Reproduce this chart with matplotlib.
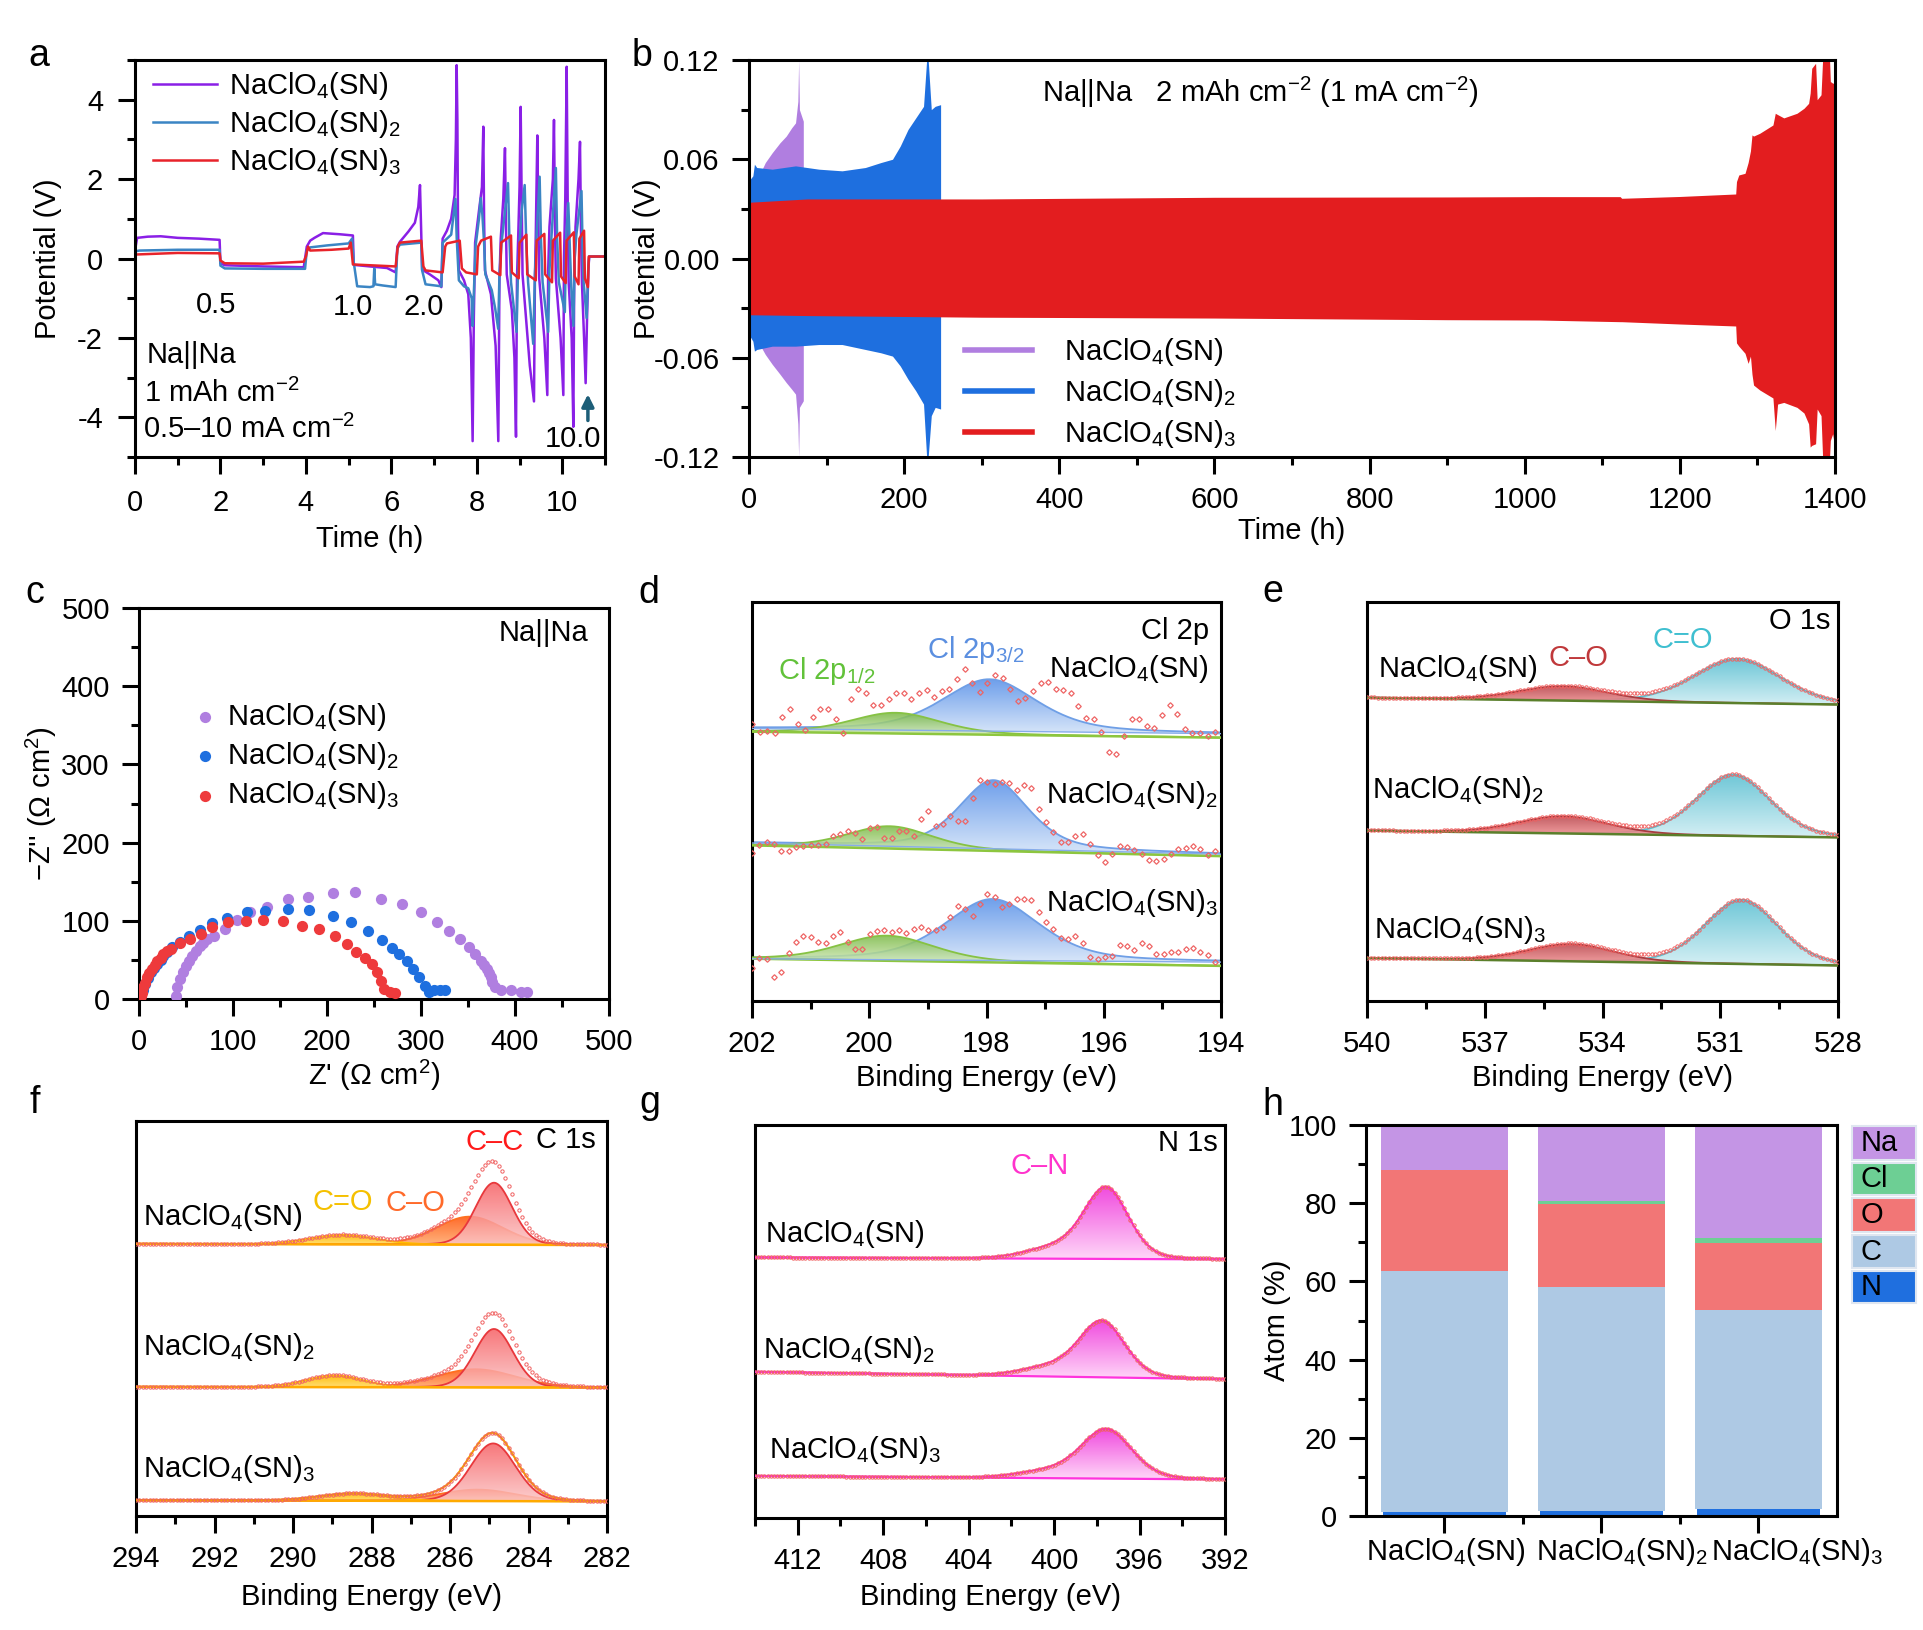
import numpy as np
import matplotlib
matplotlib.use('Agg')
import matplotlib.pyplot as plt
from matplotlib.ticker import MultipleLocator, FormatStrFormatter, NullLocator
from matplotlib.colors import LinearSegmentedColormap
from matplotlib.lines import Line2D
from matplotlib.patches import Rectangle

plt.rcParams['font.family'] = ['Liberation Sans', 'DejaVu Sans']
plt.rcParams['mathtext.fontset'] = 'custom'
plt.rcParams['mathtext.rm'] = 'Liberation Sans'
plt.rcParams['mathtext.it'] = 'Liberation Sans:italic'
plt.rcParams['mathtext.bf'] = 'Liberation Sans:bold'
plt.rcParams['mathtext.default'] = 'regular'
plt.rcParams['axes.unicode_minus'] = False
plt.rcParams['font.size'] = 21

SN = ['NaClO$_4$(SN)', 'NaClO$_4$(SN)$_2$', 'NaClO$_4$(SN)$_3$']

# ---- a : rate test (time h, potential V)
rate_sn_t = [0.00, 0.05, 0.30, 0.60, 1.00, 1.50, 1.98, 2.00, 2.10, 3.00, 3.95, 4.02, 4.10, 4.20, 4.40, 4.80, 5.10,
             5.12, 5.50, 5.90, 6.10, 6.14, 6.20, 6.40, 6.55, 6.63, 6.67, 6.70, 6.72, 6.90, 7.10, 7.17,
             7.20, 7.30, 7.40, 7.48, 7.51, 7.528, 7.545, 7.56, 7.58, 7.70, 7.80, 7.86, 7.902, 7.93, 7.96, 8.05,
             8.12, 8.152, 8.17, 8.19, 8.33, 8.44, 8.503, 8.53, 8.56, 8.62, 8.659, 8.68, 8.70, 8.82, 8.88, 8.917,
             8.94, 8.97, 9.00, 9.026, 9.05, 9.07, 9.24, 9.338, 9.36, 9.38, 9.416, 9.44, 9.46, 9.58, 9.650, 9.67,
             9.70, 9.78, 9.806, 9.83, 9.85, 9.96, 10.025, 10.04, 10.07, 10.103, 10.13, 10.15, 10.22, 10.259, 10.28,
             10.31, 10.38, 10.415, 10.44, 10.46, 10.51, 10.547, 10.58, 10.61, 10.63, 11.00]
rate_sn_v = [0.20, 0.52, 0.55, 0.56, 0.52, 0.50, 0.47, -0.12, -0.17, -0.20, -0.22, 0.30, 0.45, 0.52, 0.64, 0.61, 0.58,
             -0.16, -0.20, -0.24, -0.35, 0.30, 0.42, 0.68, 0.90, 1.30, 1.85, 0.60, -0.28, -0.40, -0.55, -0.72,
             0.50, 0.70, 1.00, 1.60, 3.00, 4.87, 3.50, 0.80, -0.30, -0.55, -0.90, -2.00, -4.60, -1.50, 0.40, 1.20,
             1.80, 3.32, 1.00, -0.30, -0.90, -2.20, -4.60, -0.50, 0.50, 1.50, 2.78, 1.00, -0.40, -1.30, -2.50, -4.49,
             -0.50, 0.60, 1.80, 3.82, 1.50, -0.40, -2.70, -3.60, -0.50, 0.60, 3.10, 1.00, -0.50, -2.00, -3.44, -0.30,
             0.80, 2.00, 3.49, 0.80, -0.50, -2.00, -3.44, 0.00, 1.50, 4.83, 1.00, -0.60, -2.00, -4.24, -0.50,
             0.80, 2.00, 2.94, 0.50, -0.60, -2.00, -3.14, -1.50, -0.30, 0.05, 0.05]
rate_sn2_t = [0.00, 0.10, 1.00, 1.98, 2.00, 2.10, 3.00, 3.98, 4.02, 4.10, 4.50, 5.00, 5.08, 5.12, 5.20, 5.50, 5.58, 5.60,
              5.62, 5.80, 6.10, 6.14, 6.20, 6.70, 6.72, 6.80, 7.17,
              7.20, 7.40, 7.50, 7.53, 7.58, 7.70, 7.80, 7.88, 7.90, 7.94, 7.97, 8.05, 8.09, 8.13, 8.17, 8.20, 8.35,
              8.43, 8.50, 8.53, 8.58, 8.66, 8.73, 8.76, 8.80, 8.93, 8.96, 9.00, 9.05, 9.12, 9.16, 9.20, 9.32, 9.36,
              9.40, 9.47, 9.50, 9.54, 9.67, 9.70, 9.75, 9.85, 9.88, 9.92, 10.06, 10.09, 10.14, 10.18, 10.21, 10.26,
              10.29, 10.33, 10.45, 10.48, 10.50, 10.57, 10.61, 10.63, 11.00]
rate_sn2_v = [0.18, 0.20, 0.22, 0.22, -0.18, -0.25, -0.26, -0.26, 0.20, 0.28, 0.33, 0.38, 0.50, -0.10, -0.70, -0.72, -0.70, -0.25,
              -0.65, -0.68, -0.72, 0.25, 0.35, 0.40, -0.30, -0.65, -0.70,
              0.40, 0.60, 1.50, 0.50, -0.55, -0.70, -0.75, -1.00, -1.70, -0.60, 0.30, 1.00, 1.52, 1.10, 0.40, -0.40, -0.80,
              -1.26, -1.77, -0.40, 0.40, 1.20, 1.90, 0.60, -0.60, -1.85, -0.50, 0.40, 1.20, 1.85, 0.30, -0.60, -2.15, -0.40,
              0.60, 2.06, 0.50, -0.60, -1.85, -0.30, 0.60, 2.28, 0.50, -0.60, -1.35, 0.50, 1.40, 0.20, -0.70, -1.70,
              0.00, 0.60, 1.70, 0.00, -0.60, -1.50, -0.20, 0.05, 0.05]
rate_sn3_t = [0.00, 1.00, 1.98, 2.00, 2.10, 3.00, 3.95, 4.00, 4.05, 4.10, 4.60, 5.00, 5.05, 5.10, 6.10, 6.15, 6.20, 6.70,
              6.75, 6.80, 7.20, 7.26, 7.30, 7.60, 7.65, 7.75, 8.00, 8.03, 8.10, 8.33, 8.36, 8.55, 8.57, 8.80, 8.82,
              8.98, 9.00, 9.16, 9.18, 9.38, 9.40, 9.58, 9.60, 9.76, 9.78, 9.95, 9.97, 10.08, 10.10, 10.27, 10.29,
              10.38, 10.40, 10.51, 10.53, 10.60, 10.62, 11.00]
rate_sn3_v = [0.10, 0.14, 0.13, -0.05, -0.12, -0.13, -0.08, 0.05, 0.30, 0.20, 0.22, 0.25, 0.40, -0.15, -0.20, 0.30, 0.40, 0.45,
              -0.20, -0.30, -0.35, 0.30, 0.38, 0.45, -0.25, -0.35, -0.40, 0.30, 0.45, 0.55, -0.30, -0.42, 0.40, 0.58, -0.35,
              -0.50, 0.40, 0.60, -0.40, -0.55, 0.45, 0.62, -0.40, -0.60, 0.45, 0.65, -0.45, -0.62, 0.45, 0.66, -0.45,
              -0.65, 0.50, 0.70, -0.50, -0.72, 0.05, 0.05]

# ---- b : long cycling envelopes (time h, potential V)
cyc_sn_t = [0, 8, 15, 21, 30, 40, 48, 55, 60, 63, 64, 65, 70]
cyc_sn_hi = [0.045, 0.047, 0.052, 0.058, 0.064, 0.070, 0.074, 0.079, 0.082, 0.095, 0.120, 0.090, 0.083]
cyc_sn_lo = [-0.045, -0.048, -0.053, -0.058, -0.064, -0.070, -0.075, -0.079, -0.082, -0.100, -0.120, -0.090, -0.086]
cyc_sn2_t = [0, 5, 7, 10, 30, 60, 90, 120, 150, 170, 185, 195, 205, 215, 225, 229, 231, 235, 240, 247]
cyc_sn2_hi = [0.047, 0.050, 0.057, 0.055, 0.054, 0.056, 0.054, 0.053, 0.055, 0.058, 0.060, 0.068, 0.078, 0.085, 0.092,
              0.120, 0.120, 0.090, 0.092, 0.093]
cyc_sn2_lo = [-0.046, -0.050, -0.056, -0.055, -0.053, -0.053, -0.052, -0.052, -0.055, -0.057, -0.059, -0.065, -0.073,
              -0.080, -0.088, -0.120, -0.120, -0.095, -0.090, -0.091]
cyc_sn3_t = [0, 75, 300, 600, 900, 1019, 1123, 1125, 1200, 1272, 1273, 1276, 1284, 1288, 1291, 1293, 1295, 1303,
             1320, 1323, 1326, 1334, 1351, 1360, 1366, 1368, 1370, 1375, 1377, 1382, 1384, 1393, 1394, 1397, 1400]
cyc_sn3_hi = [0.034, 0.036, 0.036, 0.037, 0.0372, 0.0374, 0.0374, 0.0364, 0.0375, 0.039, 0.0465, 0.0505, 0.0515,
              0.058, 0.065, 0.0747, 0.074, 0.0757, 0.0807, 0.0878, 0.087, 0.085, 0.0878, 0.0908, 0.0938, 0.100,
              0.115, 0.118, 0.096, 0.099, 0.120, 0.120, 0.107, 0.106, 0.106]
cyc_sn3_lo = [-0.034, -0.0345, -0.0355, -0.036, -0.037, -0.0372, -0.0382, -0.0382, -0.0396, -0.0408, -0.051, -0.053,
              -0.0573, -0.0634, -0.059, -0.070, -0.0765, -0.0795, -0.0843, -0.104, -0.088, -0.087, -0.090, -0.0934,
              -0.100, -0.114, -0.113, -0.112, -0.091, -0.095, -0.120, -0.120, -0.110, -0.106, -0.115]

# ---- c : EIS (ohm cm2)
eis_sn_x = [39, 40.4, 43.5, 46.5, 50, 53, 56.5, 61, 65, 68, 72, 80, 91, 104, 118, 136, 159, 180, 206.5, 230,
            257, 280, 300, 317, 330, 341, 351, 357, 364, 367, 370, 372, 374, 376, 379, 385, 396, 406.5, 413]
eis_sn_y = [4, 15, 25, 34, 42.5, 49, 55, 62, 68, 72, 77, 81, 90, 101, 111, 118, 128, 131, 135, 137,
            128.5, 122, 111, 99, 87, 77, 66, 57, 49, 44, 38, 33, 28, 22, 15, 11, 11, 9, 8.5]
eis_sn2_x = [2, 4, 6.5, 10, 13, 16, 19.5, 23, 26, 30, 35, 43.5, 53, 65, 78, 93.5, 115, 134, 159, 181,
             206.5, 226, 244, 258, 269, 277, 285, 291, 298, 304, 309, 314, 320, 326]
eis_sn2_y = [6, 12, 19, 27, 34, 40, 45, 50, 55, 60, 66, 73, 80, 88, 97, 104, 111, 113, 115, 114,
             106, 98, 87, 76, 65, 57, 48, 38, 28, 17, 9, 11, 11, 11]
eis_sn3_x = [2, 3, 4, 6, 8.7, 11, 14, 17, 19.5, 23, 26, 30, 34, 43.5, 54, 66, 78, 95, 114, 132,
             153, 173, 192, 208, 221, 231, 240, 248, 253, 257, 261, 267, 272]
eis_sn3_y = [4, 8, 15, 21, 28, 33, 38, 44, 49, 53, 57, 61, 64, 72, 77, 83, 91.5, 98, 100, 101,
             100, 93.6, 89, 81, 70, 60, 52, 45, 34, 23, 13, 8.5, 7.7]

# ---- d : Cl 2p (offset intensity, a.u.); peaks = (centre eV, height, fwhm)
cl_base_g = [(67.5, 66.0), (39.0, 36.3), (10.6, 8.8)]      # at 202 / 194 eV
cl_base_b = [(68.3, 67.0), (39.6, 36.8), (10.6, 9.75)]
cl_p32 = [(197.95, 13.0, 1.9), (197.88, 17.2, 1.4), (197.90, 15.4, 1.9)]
cl_p12 = [(199.55, 5.2, 1.8), (199.65, 5.6, 1.7), (199.70, 6.3, 1.9)]
cl_raw_sn = [69.3, 67.3, 67.7, 67.1, 71.2, 73.1, 69.5, 67.9, 71.2, 73.25, 73.1, 70.6, 67.25, 75.75, 78.1, 77.1,
             74.3, 74.1, 75.6, 77.1, 77.25, 75.6, 77.25, 77.9, 76.25, 77.7, 78.3, 80.6, 83.1, 79.75, 77.4, 79.75,
             81.8, 81.0, 78.3, 75.3, 76.0, 77.7, 79.75, 79.9, 78.3, 77.9, 77.1, 73.9, 71.0, 70.75, 67.5, 62.4,
             61.8, 66.4, 70.75, 70.75, 68.9, 68.5, 71.6, 74.2, 72.0, 68.25, 67.1, 67.25, 66.4, 67.4]
cl_raw_sn2 = [37.1, 39.1, 39.75, 39.3, 37.7, 37.5, 38.5, 38.9, 39.1, 39.1, 39.3, 41.25, 41.8, 42.7, 42.1, 40.6,
              43.25, 43.5, 40.75, 40.75, 42.7, 42.5, 41.4, 45.6, 47.7, 43.9, 44.3, 46.4, 45.0, 45.0, 51.0, 55.4,
              55.0, 54.3, 55.0, 54.6, 52.9, 54.1, 53.3, 48.1, 44.75, 42.25, 39.9, 39.9, 41.4, 41.8, 39.3, 36.6,
              34.9, 36.8, 38.75, 38.5, 37.8, 36.8, 35.4, 35.2, 35.6, 36.8, 38.1, 38.25, 38.9, 38.1, 36.6, 37.7]
cl_raw_sn3 = [8.3, 10.8, 10.6, 6.0, 7.25, 12.1, 14.75, 16.2, 16.0, 14.75, 14.6, 16.4, 17.25, 14.75, 13.1, 13.1,
              16.8, 17.5, 17.7, 17.4, 17.7, 17.1, 18.1, 18.5, 17.7, 17.7, 18.5, 21.0, 23.9, 23.1, 21.4, 24.3,
              26.8, 26.0, 23.5, 24.3, 25.6, 25.6, 25.2, 22.25, 19.75, 18.1, 15.75, 15.6, 16.4, 14.6, 11.0, 10.6,
              11.0, 11.4, 14.1, 13.75, 12.7, 14.5, 13.7, 11.8, 11.8, 12.4, 12.4, 13.1, 13.25, 12.4, 11.6, 9.75]

# ---- e : O 1s
o_base = [(76.0, 74.3), (42.7, 41.0), (10.75, 8.9)]        # at 540 / 528 eV
o_co = [(535.0, 3.6, 2.7), (535.0, 4.3, 2.7), (534.8, 4.3, 2.6)]
o_cdo = [(530.57, 11.1, 2.6), (530.67, 15.4, 2.2), (530.46, 16.1, 2.2)]

# ---- f : C 1s
c_base = [(68.9, 68.6), (32.7, 32.5), (4.0, 3.7)]          # at 294 / 282 eV
c_cc = [(284.88, 15.7, 1.1), (284.88, 14.8, 1.15), (284.90, 14.6, 1.35)]
c_co = [(285.50, 7.1, 2.0), (285.35, 4.6, 2.4), (285.30, 2.9, 2.3)]
c_cdo = [(288.73, 2.4, 2.0), (288.94, 3.0, 1.7), (288.47, 1.8, 2.0)]

# ---- g : N 1s
n_base = [(66.3, 65.8), (37.2, 35.3), (10.7, 9.8)]         # at 414 / 392 eV
n_cn = [(397.55, 17.8, 2.45), (397.74, 14.0, 2.5), (397.55, 12.5, 2.8)]
n_sh = [(399.9, 2.6, 3.2), (400.1, 2.3, 3.2), (400.3, 1.6, 3.2)]

# ---- h : atomic ratio (%)
atom_na = [11.6, 19.5, 28.9]
atom_cl = [0.0, 0.6, 1.3]
atom_o = [25.8, 21.3, 17.2]
atom_c = [61.6, 57.25, 50.7]
atom_n = [1.0, 1.35, 1.9]

W, H = 1924, 1630
fig = plt.figure(figsize=(W / 100, H / 100), dpi=100)


def box(l, t, r, b):
    return fig.add_axes([l / W, 1 - b / H, (r - l) / W, (b - t) / H])


def ftext(x, y, s, **kw):
    fig.text(x / W, 1 - y / H, s, **kw)


def style(ax, xmaj, xmin, ymaj=None, ymin=None, pad=9):
    for sp in ax.spines.values():
        sp.set_linewidth(2.2)
    ax.xaxis.set_major_locator(MultipleLocator(xmaj))
    ax.xaxis.set_minor_locator(MultipleLocator(xmin))
    if ymaj is None:
        ax.yaxis.set_major_locator(NullLocator())
        ax.yaxis.set_minor_locator(NullLocator())
    else:
        ax.yaxis.set_major_locator(MultipleLocator(ymaj))
        ax.yaxis.set_minor_locator(MultipleLocator(ymin))
    ax.tick_params(which='both', direction='out', width=2.2, top=False, right=False, labelsize=21)
    ax.tick_params(which='major', length=12, pad=pad)
    ax.tick_params(which='minor', length=6)


def gl(x, c, h, w, eta):
    d = (x - c) / w
    return h * ((1 - eta) * np.exp(-4 * np.log(2) * d ** 2) + eta / (1 + 4 * d ** 2))


def grad(ax, x, base, y, top, bot, z, alpha=1.0):
    poly = ax.fill_between(x, base, y, facecolor='none', edgecolor='none', zorder=z)
    cmap = LinearSegmentedColormap.from_list('grad', [bot, top])
    img = ax.imshow(np.linspace(0, 1, 256).reshape(-1, 1), cmap=cmap, origin='lower', aspect='auto',
                    extent=(x.min(), x.max(), base.min(), y.max()), zorder=z, alpha=alpha)
    img.set_clip_path(poly.get_paths()[0], ax.transData)


def peak_fill(ax, x, base, pk, eta, top, bot, edge, z, alpha=1.0):
    y = base + gl(x, *pk, eta)
    grad(ax, x, base, y, top, bot, z, alpha)
    ax.plot(x, y, color=edge, lw=1.3, zorder=z + 0.5)
    return y - base


def panel(x, y, s):
    ftext(x, y, s, fontsize=27, ha='left', va='baseline')


# ================= a
ax = box(135, 60, 605, 457)
ax.plot(rate_sn_t, rate_sn_v, color='#8a1fe6', lw=1.8, label=SN[0])
ax.plot(rate_sn2_t, rate_sn2_v, color='#3b85c4', lw=1.8, label=SN[1])
ax.plot(rate_sn3_t, rate_sn3_v, color='#e8232a', lw=1.8, label=SN[2])
ax.set_xlim(0, 11)
ax.set_ylim(-5, 5)
style(ax, 2, 1, 2, 1, pad=11)
ax.set_xlabel('Time (h)', labelpad=6)
ax.set_ylabel('Potential (V)', labelpad=11)
ax.legend(loc='upper left', bbox_to_anchor=(-0.005, 1.025), frameon=False, fontsize=21, handlelength=2.2,
          handletextpad=0.4, labelspacing=0.2, borderaxespad=0.3)
ax.text(1.9, -1.17, '0.5', ha='center', va='center')
ax.text(5.1, -1.22, '1.0', ha='center', va='center')
ax.text(6.76, -1.22, '2.0', ha='center', va='center')
ax.text(0.28, -2.43, 'Na||Na', ha='left', va='center')
ax.text(0.22, -3.41, '1 mAh cm$^{-2}$', ha='left', va='center')
ax.text(0.19, -4.3, '0.5\u201310 mA cm$^{-2}$', ha='left', va='center')
ax.text(10.25, -4.55, '10.0', ha='center', va='center')
ax.annotate('', xy=(10.6, -3.35), xytext=(10.6, -4.15),
            arrowprops=dict(arrowstyle='-|>', color='#1d5e78', lw=2.5, mutation_scale=18))
panel(28, 66, 'a')

# ================= b
ax = box(749, 60, 1835, 457)
ax.fill_between(cyc_sn_t, cyc_sn_lo, cyc_sn_hi, color='#b07ee0', lw=0)
ax.fill_between(cyc_sn2_t, cyc_sn2_lo, cyc_sn2_hi, color='#1e6fdf', lw=0)
ax.fill_between(cyc_sn3_t, cyc_sn3_lo, cyc_sn3_hi, color='#e31d1f', lw=0)
ax.set_xlim(0, 1400)
ax.set_ylim(-0.12, 0.12)
style(ax, 200, 100, 0.06, 0.03)
ax.yaxis.set_major_formatter(FormatStrFormatter('%.2f'))
ax.set_xlabel('Time (h)', labelpad=2)
ax.set_ylabel('Potential (V)', labelpad=-5)
handles = [Line2D([], [], color=c, lw=4) for c in ['#b07ee0', '#1e6fdf', '#e31d1f']]
ax.legend(handles, SN, loc='upper left', bbox_to_anchor=(0.175, 0.37), frameon=False, fontsize=21,
          handlelength=2.3, handletextpad=1.1, labelspacing=0.3)
ftext(1042, 92, 'Na||Na   2 mAh cm$^{-2}$ (1 mA cm$^{-2}$)', ha='left', va='center')
panel(632, 66, 'b')

# ================= c
ax = box(139, 608, 609, 999)
ax.scatter(eis_sn_x, eis_sn_y, s=65, color='#b07fe0', lw=0, zorder=3, label=SN[0])
ax.scatter(eis_sn2_x, eis_sn2_y, s=65, color='#1e6fdf', lw=0, zorder=3, label=SN[1])
ax.scatter(eis_sn3_x, eis_sn3_y, s=65, color='#ee3a3c', lw=0, zorder=3, label=SN[2])
ax.set_xlim(0, 500)
ax.set_ylim(0, 500)
style(ax, 100, 50, 100, 50)
ax.set_xlabel("Z' (\u03a9 cm$^2$)", labelpad=1)
ax.set_ylabel("\u2212Z'' (\u03a9 cm$^2$)", labelpad=2)
ax.legend(loc='upper left', bbox_to_anchor=(0.06, 0.83), frameon=False, fontsize=21, handlelength=0.8,
          handletextpad=0.35, labelspacing=0.25)
ftext(588, 633, 'Na||Na', ha='right', va='center')
panel(25, 603, 'c')

# ================= d
ax = box(752, 602, 1221, 1001)
d_x = np.linspace(194, 202, 600)
cl_raw = [cl_raw_sn, cl_raw_sn2, cl_raw_sn3]
for i in range(3):
    gb = np.interp(d_x, [194, 202], [cl_base_g[i][1], cl_base_g[i][0]])
    bb = np.interp(d_x, [194, 202], [cl_base_b[i][1], cl_base_b[i][0]])
    peak_fill(ax, d_x, bb, cl_p32[i], 0.45, '#6e9feb', '#d8e6f9', '#6f9fe6', 2)
    peak_fill(ax, d_x, gb, cl_p12[i], 0.3, '#79b843', '#dcefc6', '#86c244', 3, alpha=0.85)
    ax.plot(d_x, gb, color='#8dc63f', lw=1.8, zorder=4)
    ax.plot(d_x, bb, color='#86acea', lw=1.0, zorder=4)
    ax.plot(np.linspace(202, 194.1, len(cl_raw[i])), cl_raw[i], 'D', ms=2.8, mfc='none', mec='#ee6464',
            mew=0.9, zorder=5)
ax.set_xlim(202, 194)
ax.set_ylim(0, 100)
style(ax, 2, 1)
ax.set_xlabel('Binding Energy (eV)', labelpad=4)
ftext(1209, 631, 'Cl 2p', ha='right', va='center')
ftext(1209, 669, SN[0], ha='right', va='center')
ftext(1218, 795, SN[1], ha='right', va='center')
ftext(1218, 903, SN[2], ha='right', va='center')
ftext(927, 650, 'Cl 2p$_{3/2}$', color='#5b8fe0', ha='left', va='center')
ftext(778, 671, 'Cl 2p$_{1/2}$', color='#62c23a', ha='left', va='center')
panel(638, 603, 'd')

# ================= e
ax = box(1367, 602, 1838, 1001)
e_x = np.linspace(528, 540, 600)
e_dots = np.linspace(528, 540, 130)
for i in range(3):
    b = np.interp(e_x, [528, 540], [o_base[i][1], o_base[i][0]])
    s1 = peak_fill(ax, e_x, b, o_cdo[i], 0.2, '#6fc7d7', '#d4eff4', '#5cc0d0', 2)
    s2 = peak_fill(ax, e_x, b, o_co[i], 0.2, '#b9484f', '#f59a9a', '#a83c40', 3, alpha=0.9)
    ax.plot(e_x, b, color='#5b7f2b', lw=1.8, zorder=4)
    env = b + s1 + s2
    ax.plot(e_dots, np.interp(e_dots, e_x, env), 'o', ms=2.4, mfc='none', mec='#f06060', mew=0.7, zorder=5)
ax.set_xlim(540, 528)
ax.set_ylim(0, 100)
style(ax, 3, 1.5)
ax.set_xlabel('Binding Energy (eV)', labelpad=4)
ftext(1830, 621, 'O 1s', ha='right', va='center')
ftext(1683, 640, 'C=O', color='#3fbfd0', ha='center', va='center')
ftext(1578, 658, 'C\u2013O', color='#c0393b', ha='center', va='center')
ftext(1378, 669, SN[0], ha='left', va='center')
ftext(1372, 790, SN[1], ha='left', va='center')
ftext(1374, 930, SN[2], ha='left', va='center')
panel(1262, 602, 'e')

# ================= f
ax = box(136, 1121, 607, 1516)
f_x = np.linspace(282, 294, 600)
f_dots = np.linspace(282, 294, 140)
for i in range(3):
    b = np.interp(f_x, [282, 294], [c_base[i][1], c_base[i][0]])
    s1 = peak_fill(ax, f_x, b, c_co[i], 0.1, '#ff6a2a', '#ffb47e', '#ff7020', 2)
    s2 = peak_fill(ax, f_x, b, c_cc[i], 0.1, '#f65f63', '#fcc4c4', '#e8383c', 3, alpha=0.85)
    s3 = peak_fill(ax, f_x, b, c_cdo[i], 0.1, '#ffbf10', '#ffe07a', '#ffc000', 3)
    ax.plot(f_x, b, color='#ffaa00', lw=1.8, zorder=4)
    env = b + s1 + s2 + s3
    if i == 2:
        ax.plot(f_x, env, color='#f5a000', lw=1.5, zorder=4.5)
    ax.plot(f_dots, np.interp(f_dots, f_x, env), 'o', ms=2.4, mfc='none', mec='#f06060', mew=0.7, zorder=5)
ax.set_xlim(294, 282)
ax.set_ylim(0, 100)
style(ax, 2, 1)
ax.set_xlabel('Binding Energy (eV)', labelpad=7)
ftext(596, 1140, 'C 1s', ha='right', va='center')
ftext(495, 1142, 'C\u2013C', color='#ff1a1a', ha='center', va='center')
ftext(343, 1202, 'C=O', color='#f5c000', ha='center', va='center')
ftext(415, 1203, 'C\u2013O', color='#ff6a2a', ha='center', va='center')
ftext(143, 1217, SN[0], ha='left', va='center')
ftext(143, 1347, SN[1], ha='left', va='center')
ftext(143, 1469, SN[2], ha='left', va='center')
panel(30, 1113, 'f')

# ================= g
ax = box(755, 1125, 1225, 1518)
g_x = np.linspace(392, 414, 800)
g_dots = np.linspace(392, 414, 150)
for i in range(3):
    b = np.interp(g_x, [392, 414], [n_base[i][1], n_base[i][0]])
    y = b + gl(g_x, *n_cn[i], 0.2) + gl(g_x, *n_sh[i], 0.0)
    grad(ax, g_x, b, y, '#f04ade', '#ffd6f8', 2)
    ax.plot(g_x, y, color='#ff1fd0', lw=1.4, zorder=3)
    ax.plot(g_x, b, color='#ff33dd', lw=1.6, zorder=3)
    ax.plot(g_dots, np.interp(g_dots, g_x, y), 'o', ms=2.4, mfc='none', mec='#f06060', mew=0.7, zorder=5)
ax.set_xlim(414, 392)
ax.set_ylim(0, 100)
style(ax, 4, 2)
ax.set_xlabel('Binding Energy (eV)', labelpad=5.5)
ftext(1218, 1143, 'N 1s', ha='right', va='center')
ftext(1040, 1166, 'C\u2013N', color='#ff33cc', ha='center', va='center')
ftext(765, 1234, SN[0], ha='left', va='center')
ftext(763, 1350, SN[1], ha='left', va='center')
ftext(769, 1450, SN[2], ha='left', va='center')
panel(639, 1113, 'g')

# ================= h
ax = box(1366, 1125, 1837, 1516)
pos = np.arange(3)
bw = 0.815
bottom = np.zeros(3)
cols = {'N': '#1f6fdf', 'C': '#aec9e4', 'O': '#f27676', 'Cl': '#6dcf94', 'Na': '#c495e5'}
for name, vals in [('N', atom_n), ('C', atom_c), ('O', atom_o), ('Cl', atom_cl), ('Na', atom_na)]:
    ax.bar(pos, vals, bw * (0.96 if name == 'N' else 1.0), bottom=bottom, color=cols[name], lw=0)
    bottom = bottom + np.array(vals)
ax.set_xlim(-0.5, 2.5)
ax.set_ylim(0, 100)
style(ax, 1, 0.5, 20, 10)
ax.set_xticks(pos)
ax.set_xticks([0.5, 1.5], minor=True)
ax.set_xticklabels([])
for xc, lab in zip([1446, 1622, 1797], SN):
    ftext(xc, 1552, lab, ha='center', va='center')
ax.set_ylabel('Atom (%)', labelpad=-2)
leg_y = [(1126, 1160), (1163, 1195), (1198, 1232), (1235, 1268), (1271, 1303)]
for (t, bt), name in zip(leg_y, ['Na', 'Cl', 'O', 'C', 'N']):
    fig.add_artist(Rectangle((1852 / W, 1 - bt / H), 64 / W, (bt - t) / H, transform=fig.transFigure,
                             facecolor=cols[name], edgecolor='#dfe6f0', lw=1.5))
    ftext(1861, (t + bt) / 2, name, ha='left', va='center')
panel(1262, 1115, 'h')

fig.savefig('out.png', dpi=100)
